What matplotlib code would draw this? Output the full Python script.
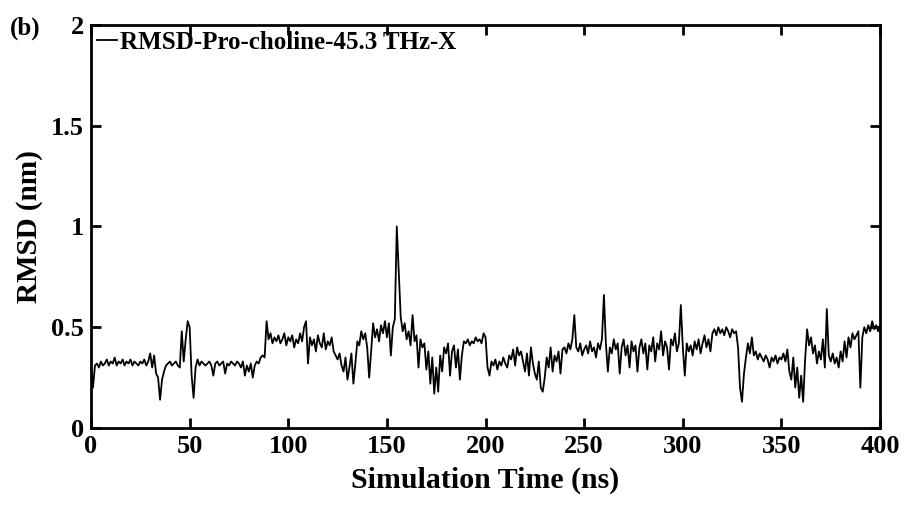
import numpy as np
import matplotlib
matplotlib.use('Agg')
import matplotlib.pyplot as plt

plt.rcParams['font.family'] = ['Liberation Serif', 'DejaVu Serif']
plt.rcParams['font.weight'] = 'bold'

## RMSD values, one per ns (0 - 400 ns)
rmsd = [
    0.30, 0.20, 0.31, 0.32, 0.30, 0.33, 0.31, 0.32, 0.34, 0.31,
    0.33, 0.32, 0.35, 0.31, 0.33, 0.32, 0.34, 0.31, 0.33, 0.32,
    0.34, 0.31, 0.33, 0.32, 0.31, 0.33, 0.32, 0.34, 0.31, 0.33,
    0.37, 0.30, 0.36, 0.27, 0.25, 0.14, 0.24, 0.28, 0.31, 0.32,
    0.33, 0.31, 0.32, 0.33, 0.31, 0.30, 0.48, 0.33, 0.44, 0.53,
    0.50, 0.26, 0.15, 0.30, 0.34, 0.31, 0.33, 0.32, 0.31, 0.32,
    0.33, 0.31, 0.26, 0.32, 0.33, 0.31, 0.32, 0.33, 0.27, 0.32,
    0.31, 0.33, 0.32, 0.31, 0.33, 0.32, 0.30, 0.33, 0.26, 0.31,
    0.28, 0.32, 0.25, 0.31, 0.33, 0.32, 0.35, 0.36, 0.35, 0.53,
    0.44, 0.47, 0.42, 0.45, 0.43, 0.46, 0.42, 0.44, 0.47, 0.41,
    0.45, 0.43, 0.46, 0.40, 0.44, 0.42, 0.47, 0.43, 0.50, 0.53,
    0.32, 0.45, 0.41, 0.44, 0.38, 0.46, 0.42, 0.40, 0.47, 0.39,
    0.43, 0.41, 0.45, 0.38, 0.36, 0.34, 0.37, 0.31, 0.28, 0.35,
    0.24, 0.30, 0.37, 0.22, 0.32, 0.43, 0.41, 0.48, 0.44, 0.47,
    0.40, 0.25, 0.38, 0.52, 0.45, 0.49, 0.43, 0.51, 0.47, 0.53,
    0.45, 0.52, 0.36, 0.50, 0.54, 1.00, 0.78, 0.55, 0.48, 0.52,
    0.44, 0.48, 0.41, 0.56, 0.43, 0.46, 0.30, 0.44, 0.40, 0.42,
    0.29, 0.38, 0.22, 0.35, 0.17, 0.30, 0.18, 0.36, 0.28, 0.40,
    0.37, 0.42, 0.26, 0.38, 0.41, 0.30, 0.39, 0.24, 0.36, 0.43,
    0.42, 0.44, 0.41, 0.43, 0.42, 0.45, 0.43, 0.44, 0.42, 0.47,
    0.45, 0.30, 0.26, 0.33, 0.31, 0.34, 0.29, 0.33, 0.31, 0.35,
    0.32, 0.30, 0.36, 0.34, 0.39, 0.31, 0.40, 0.36, 0.38, 0.33,
    0.28, 0.37, 0.26, 0.40, 0.32, 0.27, 0.24, 0.33, 0.20, 0.18,
    0.25, 0.35, 0.30, 0.40, 0.28, 0.36, 0.33, 0.38, 0.27, 0.39,
    0.40, 0.37, 0.42, 0.39, 0.44, 0.56, 0.40, 0.38, 0.42, 0.36,
    0.39, 0.41, 0.37, 0.43, 0.38, 0.40, 0.35, 0.42, 0.39, 0.44,
    0.66, 0.42, 0.28, 0.40, 0.37, 0.44, 0.39, 0.42, 0.27, 0.40,
    0.44, 0.36, 0.41, 0.30, 0.43, 0.38, 0.41, 0.28, 0.40, 0.44,
    0.37, 0.42, 0.29, 0.41, 0.38, 0.45, 0.33, 0.42, 0.39, 0.48,
    0.36, 0.43, 0.40, 0.29, 0.44, 0.41, 0.47, 0.38, 0.42, 0.61,
    0.40, 0.26, 0.42, 0.38, 0.41, 0.36, 0.43, 0.39, 0.44, 0.37,
    0.42, 0.46, 0.40, 0.44, 0.38, 0.47, 0.49, 0.46, 0.50, 0.47,
    0.49, 0.46, 0.50, 0.48, 0.45, 0.49, 0.47, 0.48, 0.40, 0.20,
    0.13, 0.27, 0.35, 0.42, 0.37, 0.45, 0.36, 0.38, 0.34, 0.37,
    0.35, 0.33, 0.36, 0.34, 0.30, 0.35, 0.33, 0.36, 0.32, 0.35,
    0.34, 0.37, 0.33, 0.39, 0.28, 0.24, 0.35, 0.20, 0.30, 0.15,
    0.26, 0.13, 0.34, 0.49, 0.41, 0.45, 0.37, 0.41, 0.32, 0.38,
    0.34, 0.44, 0.30, 0.59, 0.36, 0.33, 0.37, 0.32, 0.35, 0.30,
    0.38, 0.33, 0.43, 0.35, 0.45, 0.40, 0.47, 0.44, 0.46, 0.48,
    0.20, 0.45, 0.50, 0.47, 0.51, 0.48, 0.53, 0.49, 0.51, 0.48,
    0.50,
]
time_ns = np.arange(len(rmsd))

x_ticks = [0, 50, 100, 150, 200, 250, 300, 350, 400]
y_ticks = [0, 0.5, 1, 1.5, 2]
y_tick_labels = ['0', '0.5', '1', '1.5', '2']

fig = plt.figure(figsize=(9.12, 5.05), dpi=100)
ax = fig.add_axes([0.0998, 0.1525, 0.8652, 0.798])

ax.plot(time_ns, rmsd, color='black', lw=1.3, label='RMSD-Pro-choline-45.3 THz-X')

ax.set_xlim(0, 400)
ax.set_ylim(0, 2)
ax.set_xticks(x_ticks)
ax.set_yticks(y_ticks)
ax.set_yticklabels(y_tick_labels)
ax.tick_params(direction='in', length=7, width=2, top=True, right=True,
               labelsize=19, pad=5)
for s in ax.spines.values():
    s.set_linewidth(2)

ax.set_xlabel('Simulation Time (ns)', fontsize=21.5, fontweight='bold', labelpad=6)
ax.set_ylabel('RMSD (nm)', fontsize=21, fontweight='bold', labelpad=6)

ax.legend(loc='upper left', frameon=False, fontsize=18, handlelength=0.8,
          handletextpad=0.1, borderaxespad=0.15, borderpad=0.1)

fig.text(0.011, 0.944, '(b)', fontsize=18, fontweight='bold', va='center')

plt.savefig('out.png', dpi=100)
